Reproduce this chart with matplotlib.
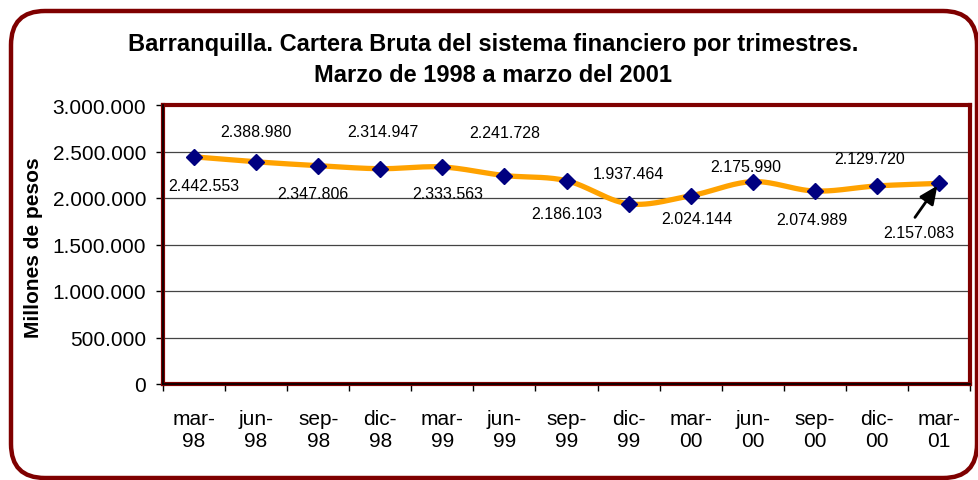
import numpy as np
import matplotlib
matplotlib.use("Agg")
import matplotlib.pyplot as plt
from matplotlib.patches import FancyBboxPatch
from matplotlib.ticker import FuncFormatter, MultipleLocator, FixedLocator

plt.rcParams['font.family'] = ['Liberation Sans', 'DejaVu Sans']

# data
periods = ["mar-\n98", "jun-\n98", "sep-\n98", "dic-\n98", "mar-\n99", "jun-\n99",
           "sep-\n99", "dic-\n99", "mar-\n00", "jun-\n00", "sep-\n00", "dic-\n00",
           "mar-\n01"]
cartera = [2442553, 2388980, 2347806, 2314947, 2333563, 2241728, 2186103,
           1937464, 2024144, 2175990, 2074989, 2129720, 2157083]

# label offsets in pixels (dx, dy) relative to each marker
label_offsets = [(10, -29), (0, 30), (-5, -28), (3, 37), (5, -27), (0, 43),
                 (0, -33), (0, 30), (6, -23), (-7, 15), (-3, -28), (-7, 27),
                 (-20, -49)]

DARK_RED = "#7f0000"
ORANGE = "#ffa200"
NAVY = "#000080"


def fmt_miles(v, pos=None):
    return f"{int(round(v)):,}".replace(",", ".")


def catmull_rom(x, y, n=30):
    # smooth curve through the points, like Excel's smoothed line
    x = np.asarray(x, float)
    y = np.asarray(y, float)
    px = np.concatenate([[2 * x[0] - x[1]], x, [2 * x[-1] - x[-2]]])
    py = np.concatenate([[2 * y[0] - y[1]], y, [2 * y[-1] - y[-2]]])
    xs, ys = [], []
    t = np.linspace(0, 1, n)
    for i in range(1, len(px) - 2):
        p0, p1, p2, p3 = (np.array([px[j], py[j]]) for j in range(i - 1, i + 3))
        c1 = p1 + (p2 - p0) / 6
        c2 = p2 - (p3 - p1) / 6
        pts = ((1 - t) ** 3)[:, None] * p1 + (3 * (1 - t) ** 2 * t)[:, None] * c1 \
            + (3 * (1 - t) * t ** 2)[:, None] * c2 + (t ** 3)[:, None] * p2
        xs.append(pts[:, 0])
        ys.append(pts[:, 1])
    return np.concatenate(xs), np.concatenate(ys)


W, H = 979, 481
fig = plt.figure(figsize=(W / 100, H / 100), dpi=100)

# outer rounded frame (inches)
frame = FancyBboxPatch((0.11, 0.02), 9.66, 4.67,
                       boxstyle="round,pad=0,rounding_size=0.34",
                       transform=fig.dpi_scale_trans, fill=False,
                       edgecolor=DARK_RED, linewidth=3.2)
fig.patches.append(frame)

ax = fig.add_axes([163 / W, (H - 385) / H, 807 / W, 279 / H])
x = np.arange(len(cartera))
ax.set_xlim(-0.5, len(cartera) - 0.5)
ax.set_ylim(0, 3000000)

ax.yaxis.set_major_locator(MultipleLocator(500000))
ax.yaxis.set_major_formatter(FuncFormatter(fmt_miles))
ax.grid(axis='y', color='#444444', linewidth=0.9)
ax.set_axisbelow(True)

ax.xaxis.set_major_locator(FixedLocator(x))
ax.set_xticklabels(periods, fontsize=15, linespacing=1.2)
ax.xaxis.set_minor_locator(FixedLocator(np.arange(len(cartera) + 1) - 0.5))
ax.tick_params(axis='x', which='major', length=0, pad=18)
ax.tick_params(axis='x', which='minor', length=5, width=1, color='black', direction='out')
ax.tick_params(axis='y', length=5, width=1, labelsize=15, pad=7)

for s in ax.spines.values():
    s.set_color(DARK_RED)
    s.set_linewidth(3)
ax.axvline(-0.5, color='black', lw=1.2, zorder=5, clip_on=False)
ax.axhline(0, color='black', lw=1.2, zorder=5, clip_on=False)

sx, sy = catmull_rom(x, cartera)
ax.plot(sx, sy, color=ORANGE, lw=3.8, solid_capstyle='round', zorder=3)
ax.plot(x, cartera, linestyle='none', marker='D', markersize=8.5,
        color=NAVY, zorder=4)

for i, v in enumerate(cartera):
    dx, dy = label_offsets[i]
    ax.annotate(fmt_miles(v), (x[i], v), xytext=(dx, dy),
                textcoords='offset pixels', ha='center', va='center',
                fontsize=11.5)

# arrow pointing at the last marker
ax.annotate("", (x[-1], cartera[-1]), xytext=(-24, -34),
            textcoords='offset pixels', zorder=6,
            arrowprops=dict(arrowstyle='-|>,head_length=1.1,head_width=0.5',
                            mutation_scale=10, color='black', lw=2,
                            shrinkA=0, shrinkB=2))

fig.text(34 / W, 1 - 248 / H, "Millones de pesos", rotation=90,
         ha='center', va='center', fontsize=15, fontweight='bold')

fig.text(493 / W, 1 - 45 / H,
         "Barranquilla. Cartera Bruta del sistema financiero por trimestres.",
         ha='center', va='center', fontsize=17, fontweight='bold')
fig.text(493 / W, 1 - 75 / H, "Marzo de 1998 a marzo del 2001",
         ha='center', va='center', fontsize=17, fontweight='bold')

fig.savefig("out.png", dpi=100)
